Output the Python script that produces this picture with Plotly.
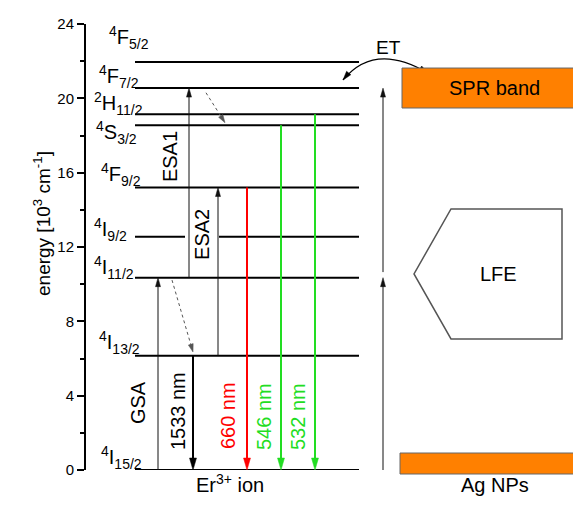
import math
import plotly.graph_objects as go

# ---- Er3+ energy levels (10^3 cm^-1) ----
level_mult = ["4", "4", "4", "4", "4", "4", "2", "4", "4"]
level_term = ["I", "I", "I", "I", "F", "S", "H", "F", "F"]
level_j = ["15/2", "13/2", "11/2", "9/2", "9/2", "3/2", "11/2", "7/2", "5/2"]
level_energy = [0.0, 6.15, 10.35, 12.55, 15.2, 18.55, 19.15, 20.55, 21.95]

# ---- absorption steps (lower level, upper level) ----
absorption_names = ["GSA", "ESA1", "ESA2"]
absorption_from = ["4I15/2", "4I11/2", "4I13/2"]
absorption_to = ["4I11/2", "4F7/2", "4F9/2"]

# ---- emission lines ----
emission_labels = ["1533 nm", "660 nm", "546 nm", "532 nm"]
emission_from = ["4I13/2", "4F9/2", "4S3/2", "2H11/2"]
emission_to = ["4I15/2", "4I15/2", "4I15/2", "4I15/2"]
emission_colors = ["#000000", "#ff0000", "#22dd22", "#22dd22"]

# ---- page geometry ----
W, H = 573, 507
ML, MR, MT, MB = 86, 0, 24, 37
Y_MAX = 24
KY = Y_MAX / (H - MT - MB)          # energy units per pixel
X0, X1 = ML, W                      # x axis in schematic pixel units

keys = [m + t + j for m, t, j in zip(level_mult, level_term, level_j)]
E = dict(zip(keys, level_energy))

FONT = "Liberation Sans, Arial, sans-serif"
FS = 20

# level label placement (left edge, vertical offset in px, up positive)
label_x = [99, 97, 92, 92, 99, 94, 92, 97, 107]
label_dy = [12.5, 13, 10, 7, 13, -7.5, 11, 12, 25]

# column positions of the arrows
abs_x = [158, 189, 218]
abs_text_x = [138, 170, 202]
abs_text_e = [3.6, 16.84, 12.65]
em_x = [193, 247, 281, 315]
em_text_x = [178, 228, 264, 298]
em_text_e = [3.17, 2.9, 2.85, 2.85]

LINE_X0, LINE_X1 = 135, 359
GAP = (185, 219)                    # break in 4I9/2 for the ESA2 label

fig = go.Figure()
shapes = []
annotations = []


def seg(xs, ys, color="black", width=2, dash="solid"):
    fig.add_trace(go.Scatter(x=xs, y=ys, mode="lines", hoverinfo="skip",
                             showlegend=False,
                             line=dict(color=color, width=width, dash=dash)))


def head(xt, et, dx, dy, L, Wd, color="black"):
    """Filled arrowhead with tip at (xt, et); (dx, dy) pixel direction, y down."""
    n = math.hypot(dx, dy)
    ux, uy = dx / n, dy / n
    bx, by = -ux * L, -uy * L
    px, py = -uy, ux
    pts = [(0, 0), (bx + px * Wd / 2, by + py * Wd / 2),
           (bx - px * Wd / 2, by - py * Wd / 2)]
    path = "M " + " L ".join(f"{xt + a:.2f},{et - b * KY:.4f}" for a, b in pts) + " Z"
    shapes.append(dict(type="path", path=path, xref="x", yref="y",
                       fillcolor=color, line=dict(color=color, width=0.5)))


def arrow(x0, e0, x1, e1, color="black", width=1, L=9, Wd=5, dash="solid"):
    dx = x1 - x0
    dy = -(e1 - e0) / KY
    n = math.hypot(dx, dy)
    back = L * 0.6 / n
    seg([x0, x1 - dx * back], [e0, e1 - (e1 - e0) * back], color, width, dash)
    head(x1, e1, dx, dy, L, Wd, color)


# energy level lines
for k, e in zip(keys, level_energy):
    if k == "4I9/2":
        seg([LINE_X0, GAP[0], None, GAP[1], LINE_X1], [e, e, None, e, e])
    else:
        seg([LINE_X0, LINE_X1], [e, e])

# level labels
for m, t, j, e, lx, dy in zip(level_mult, level_term, level_j, level_energy,
                              label_x, label_dy):
    annotations.append(dict(
        x=lx, y=e, xref="x", yref="y", xanchor="left", yanchor="middle",
        yshift=dy, showarrow=False,
        text=f"<sup>{m}</sup>{t}<sub>{j}</sub>",
        font=dict(family=FONT, size=FS, color="black")))

# absorption arrows + labels
for name, a, b, x, tx, te in zip(absorption_names, absorption_from, absorption_to,
                                 abs_x, abs_text_x, abs_text_e):
    arrow(x, E[a], x, E[b], color="#111111", width=1, L=9, Wd=5)
    annotations.append(dict(x=tx, y=te, xref="x", yref="y", text=name,
                            textangle=-90, showarrow=False,
                            font=dict(family=FONT, size=FS, color="black")))

# emission arrows + labels
for lab, a, b, c, x, tx, te in zip(emission_labels, emission_from, emission_to,
                                   emission_colors, em_x, em_text_x, em_text_e):
    arrow(x, E[a], x, E[b], color=c, width=2, L=12, Wd=7)
    annotations.append(dict(x=tx, y=te, xref="x", yref="y", text=lab,
                            textangle=-90, showarrow=False,
                            font=dict(family=FONT, size=FS, color=c)))

# non-radiative relaxation (dotted)
arrow(172, E["4I11/2"] - 0.13, 193, E["4I13/2"] + 0.2,
      color="#555555", width=1, L=8, Wd=5, dash="dot")
arrow(206, E["4F7/2"] - 0.25, 225, E["4S3/2"] + 0.14,
      color="#555555", width=1, L=8, Wd=5, dash="dot")

# excitation of the Ag NPs column (two sequential steps)
arrow(383, 0, 383, E["4I11/2"], color="#111111", width=1, L=9, Wd=5)
arrow(383, E["4I11/2"] + 0.3, 383, E["4F7/2"], color="#111111", width=1, L=9, Wd=5)

# energy transfer arc between Er3+ and the SPR band
p0 = (343, (H - MB - 80) * KY)
pc = (374.5, (H - MB - 41.5) * KY)
p2 = (428, (H - MB - 73) * KY)
shapes.append(dict(type="path", xref="x", yref="y",
                   path=f"M {p0[0]},{p0[1]:.3f} Q {pc[0]},{pc[1]:.3f} {p2[0]},{p2[1]:.3f}",
                   line=dict(color="black", width=1.2)))
head(p0[0], p0[1], p0[0] - pc[0], -(p0[1] - pc[1]) / KY, 9, 5.5)
head(p2[0], p2[1], p2[0] - pc[0], -(p2[1] - pc[1]) / KY, 9, 5.5)
annotations.append(dict(x=388, y=22.76, xref="x", yref="y", text="ET",
                        showarrow=False,
                        font=dict(family=FONT, size=19, color="black")))

# SPR band
spr_lo, spr_hi = 19.48, 21.63
shapes.append(dict(type="rect", xref="x", yref="y", x0=402, x1=W + 2,
                   y0=spr_lo, y1=spr_hi, fillcolor="#ff8000",
                   line=dict(color="#666666", width=1)))
annotations.append(dict(x=494, y=(spr_lo + spr_hi) / 2, xref="x", yref="y",
                        text="SPR band", showarrow=False,
                        font=dict(family=FONT, size=FS, color="black")))

# local field enhancement block
lfe_top, lfe_bot, lfe_mid = 14.05, 7.05, 10.55
shapes.append(dict(type="path", xref="x", yref="y",
                   path=(f"M 451,{lfe_top} L 562,{lfe_top} L 562,{lfe_bot} "
                         f"L 451,{lfe_bot} L 414,{lfe_mid} Z"),
                   fillcolor="white", line=dict(color="#555555", width=1.5)))
annotations.append(dict(x=498, y=lfe_mid, xref="x", yref="y", text="LFE",
                        showarrow=False,
                        font=dict(family=FONT, size=FS, color="black")))


def px_to_paper_x(px):
    return (px - ML) / (W - ML - MR)


def px_to_paper_y(py):
    return (H - MB - py) / (H - MT - MB)


# ground band of the Ag NPs
shapes.append(dict(type="rect", xref="paper", yref="paper",
                   x0=px_to_paper_x(400), x1=px_to_paper_x(W + 2),
                   y0=px_to_paper_y(474), y1=px_to_paper_y(453),
                   fillcolor="#ff8000", line=dict(color="#666666", width=1)))

# column captions
annotations.append(dict(x=230, y=px_to_paper_y(498), xref="x", yref="paper",
                        text="Er<sup>3+</sup> ion", showarrow=False,
                        font=dict(family=FONT, size=FS, color="black")))
annotations.append(dict(x=495, y=px_to_paper_y(498), xref="x", yref="paper",
                        text="Ag NPs", showarrow=False,
                        font=dict(family=FONT, size=FS, color="black")))

# y axis title
annotations.append(dict(x=px_to_paper_x(28), y=px_to_paper_y(224),
                        xref="paper", yref="paper", textangle=-90,
                        text="energy [10<sup>3</sup> cm<sup>-1</sup>]",
                        showarrow=False,
                        font=dict(family=FONT, size=19, color="black")))

fig.update_layout(
    width=W, height=H, autosize=False,
    margin=dict(l=ML, r=MR, t=MT, b=MB, pad=0),
    paper_bgcolor="white", plot_bgcolor="white",
    font=dict(family=FONT, color="black"),
    showlegend=False,
    shapes=shapes, annotations=annotations,
    xaxis=dict(range=[X0, X1], visible=False, fixedrange=True),
    yaxis=dict(range=[0, Y_MAX], tickvals=[0, 4, 8, 12, 16, 20, 24],
               ticks="outside", ticklen=7, tickwidth=1.5, tickcolor="black",
               showline=True, linewidth=2, linecolor="black",
               showgrid=False, zeroline=False, fixedrange=True,
               tickfont=dict(family=FONT, size=15, color="black"),
               minor=dict(dtick=2, ticks="outside", ticklen=4, tickwidth=1.5,
                          tickcolor="black", showgrid=False)),
)

fig.write_html("out.html")
